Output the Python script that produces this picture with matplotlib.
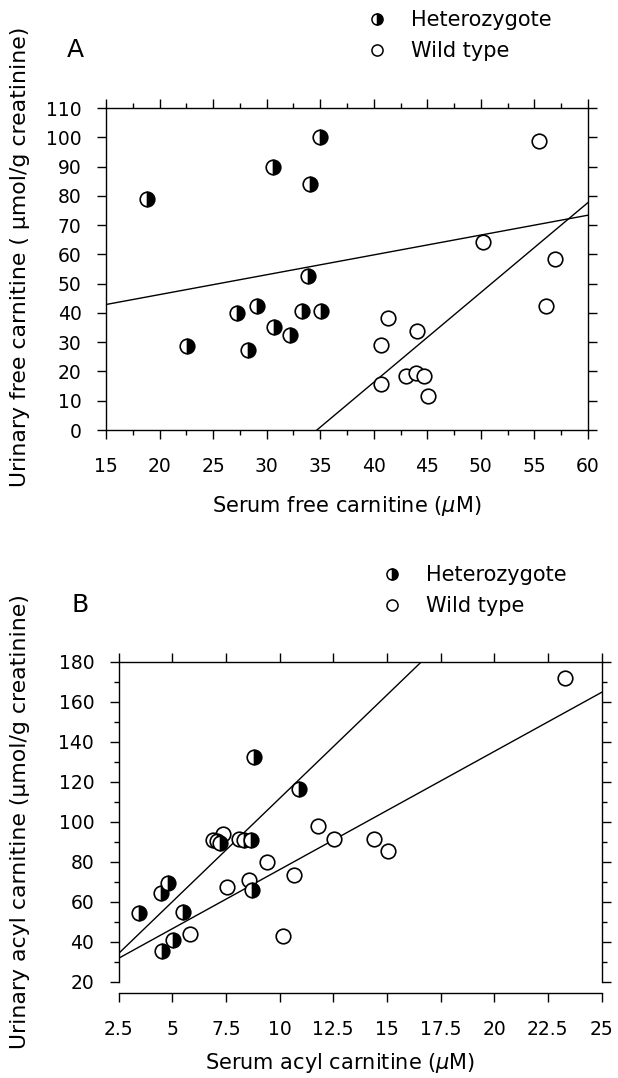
import matplotlib.pyplot as plt
from matplotlib.lines import Line2D
from matplotlib.ticker import MultipleLocator

# Panel A: free carnitine
het_a_x = [18.8, 35.0, 30.6, 34.0, 33.9, 29.1, 27.2, 33.3, 35.1, 30.7, 32.2, 22.6, 28.3]
het_a_y = [79, 100, 90, 84, 52.6, 42.4, 39.8, 40.5, 40.5, 35.3, 32.3, 28.8, 27.3]
wt_a_x = [55.4, 50.2, 56.9, 56.1, 41.3, 44.0, 40.7, 43.0, 43.9, 44.7, 40.7, 45.1]
wt_a_y = [98.7, 64.3, 58.3, 42.3, 38.3, 33.8, 29.0, 18.6, 19.4, 18.6, 15.6, 11.7]

# regression lines (intercept, slope)
het_a_fit = (32.7, 0.678)
wt_a_fit = (-106.5, 3.07)

# Panel B: acyl carnitine
het_b_x = [8.81, 10.92, 7.1, 7.25, 8.35, 8.65, 4.8, 4.47, 3.47, 5.52, 8.70, 5.02, 4.51]
het_b_y = [132.2, 116.2, 90.5, 89.5, 90.8, 90.8, 69.5, 64.2, 54.2, 55.0, 66.0, 41.0, 35.5]
wt_b_x = [23.3, 11.81, 12.55, 14.4, 15.07, 6.89, 7.35, 8.13, 9.40, 10.69, 8.59, 7.57, 5.83, 10.18]
wt_b_y = [171.7, 97.8, 91.3, 91.3, 85.5, 90.8, 93.8, 91.2, 79.8, 73.2, 70.9, 67.2, 43.9, 43.0]

het_b_fit = (8.2, 10.34)
wt_b_fit = (16.9, 5.91)

W, H = 618, 1078
fig = plt.figure(figsize=(W / 100, H / 100), dpi=100)

TICK_FS = 13.5
LABEL_FS = 15


def style_axes(ax):
    ax.tick_params(which="both", direction="out", top=True, right=True,
                   labelsize=TICK_FS, width=1)
    ax.tick_params(which="major", length=6.5, pad=11)
    ax.tick_params(which="minor", length=3.5)
    ax.tick_params(axis="x", which="major", pad=13)
    for sp in ax.spines.values():
        sp.set_linewidth(1)


def scatter(ax, hx, hy, wx, wy):
    ax.plot(wx, wy, "o", ms=10.5, mfc="white", mec="black", mew=1.2,
            ls="none", zorder=3)
    ax.plot(hx, hy, "o", ms=10.5, fillstyle="right", mfc="black",
            mfcalt="white", mec="black", mew=1.2, ls="none", zorder=4)


def fit_line(ax, fit, x0, x1):
    b, m = fit
    ax.plot([x0, x1], [b + m * x0, b + m * x1], color="black", lw=1, zorder=2)


# ---- Panel A
ax1 = fig.add_axes([106 / W, 1 - 430 / H, 482 / W, 322 / H])
scatter(ax1, het_a_x, het_a_y, wt_a_x, wt_a_y)
fit_line(ax1, het_a_fit, 15, 60)
fit_line(ax1, wt_a_fit, 15, 60)
ax1.set_xlim(15, 60)
ax1.set_ylim(0, 110)
ax1.xaxis.set_major_locator(MultipleLocator(5))
ax1.xaxis.set_minor_locator(MultipleLocator(2.5))
ax1.yaxis.set_major_locator(MultipleLocator(10))
style_axes(ax1)

# ---- Panel B
ax2 = fig.add_axes([118.5 / W, 1 - 981.7 / H, 483 / W, 320 / H])
scatter(ax2, het_b_x, het_b_y, wt_b_x, wt_b_y)
fit_line(ax2, het_b_fit, 2.5, 25)
fit_line(ax2, wt_b_fit, 2.5, 25)
ax2.set_xlim(2.5, 25)
ax2.set_ylim(20, 180)
ax2.xaxis.set_major_locator(MultipleLocator(2.5))
ax2.yaxis.set_major_locator(MultipleLocator(20))
ax2.yaxis.set_minor_locator(MultipleLocator(10))
ax2.xaxis.set_major_formatter(lambda v, p: f"{v:g}")
style_axes(ax2)
ax2.spines["bottom"].set_position(("outward", 8))

# labels
fig.text(347 / W, 1 - 506 / H, "Serum free carnitine ($\\mu$M)",
         ha="center", va="center", fontsize=LABEL_FS)
fig.text(20 / W, 1 - 257 / H, "Urinary free carnitine ( \u03bcmol/g creatinine)",
         ha="center", va="center", rotation=90, fontsize=LABEL_FS + 0.8)
fig.text(340 / W, 1 - 1063 / H, "Serum acyl carnitine ($\\mu$M)",
         ha="center", va="center", fontsize=LABEL_FS)
fig.text(20 / W, 1 - 822 / H, "Urinary acyl carnitine (\u03bcmol/g creatinine)",
         ha="center", va="center", rotation=90, fontsize=LABEL_FS + 0.8)

fig.text(75 / W, 1 - 50 / H, "A", ha="center", va="center", fontsize=18)
fig.text(80 / W, 1 - 605 / H, "B", ha="center", va="center", fontsize=18)

# legends
handles = [
    Line2D([], [], marker="o", ls="none", ms=8, fillstyle="right", mfc="black",
           mfcalt="white", mec="black", mew=1.1),
    Line2D([], [], marker="o", ls="none", ms=8, mfc="white", mec="black", mew=1.1),
]
labels = ["Heterozygote", "Wild type"]
for lx, ly in [(367, 10), (382, 565)]:
    fig.legend(handles, labels, loc="upper left",
               bbox_to_anchor=(lx / W, 1 - ly / H), frameon=False,
               fontsize=15, handlelength=1.0, handletextpad=1.1,
               labelspacing=0.55, borderpad=0, borderaxespad=0)

fig.savefig("out.png", dpi=100)
